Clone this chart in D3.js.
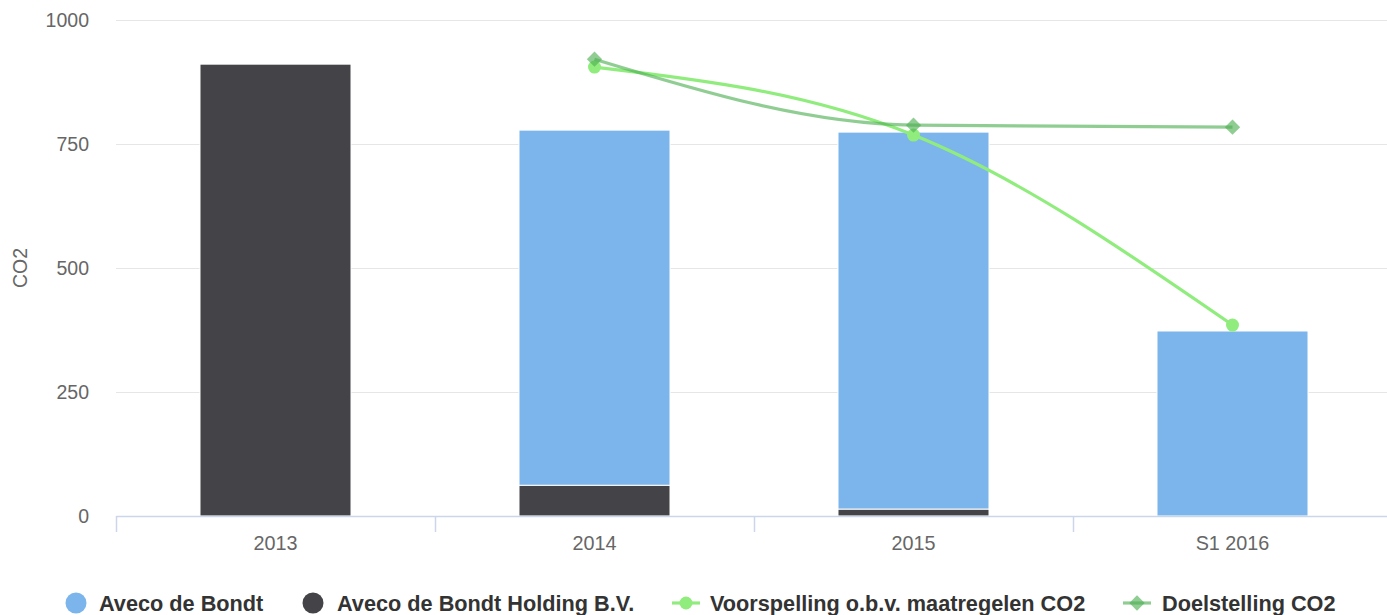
<!DOCTYPE html>
<html>
<head>
<meta charset="utf-8">
<script src="https://cdn.jsdelivr.net/npm/d3@7"></script>
<style>
  html, body { margin: 0; padding: 0; background: #fff; }
  svg { display: block; font-family: "Liberation Sans", Arial, Helvetica, sans-serif; }
</style>
</head>
<body>
<svg id="chart" width="1387" height="615"></svg>
<script>
// Chart data
const categories = ['2013', '2014', '2015', 'S1 2016'];
const avecoDeBondt = [0, 716, 760, 373];
const avecoHolding = [911, 62, 14, 0];
const voorspelling = [null, 905, 768, 385];
const doelstelling = [null, 921, 788, 784];
const yTicks = [0, 250, 500, 750, 1000];

const barColors = { blue: '#7cb5ec', dark: '#434348' };
const lineGreen = '#90ed7d';
const goalGreen = 'rgba(76, 175, 80, 0.62)';

const svg = d3.select('#chart');
const plot = { left: 116, right: 1392, top: 20, bottom: 516 };

const x = d3.scaleBand()
  .domain(categories)
  .range([plot.left, plot.right])
  .padding(0);

const y = d3.scaleLinear()
  .domain([0, 1000])
  .range([plot.bottom, plot.top]);

const barWidth = x.bandwidth() * 0.4734;

// Grid lines + y labels
const yAxis = svg.append('g')
  .attr('transform', `translate(${plot.left},0)`)
  .call(d3.axisLeft(y).tickValues(yTicks).tickFormat(d3.format('d'))
    .tickSize(-(plot.right - plot.left)).tickPadding(27));
yAxis.select('.domain').remove();
yAxis.selectAll('.tick line')
  .attr('stroke', d => d === 0 ? 'none' : '#e6e6e6')
  .attr('stroke-width', 1.2);
yAxis.selectAll('.tick text')
  .attr('fill', '#666666')
  .style('font-size', '19.5px');

// Axis title
svg.append('text')
  .attr('transform', `translate(27,${(plot.top + plot.bottom) / 2}) rotate(-90)`)
  .attr('text-anchor', 'middle')
  .attr('fill', '#666666')
  .style('font-size', '19.5px')
  .text('CO2');

// Stacked bars (holding at bottom, de Bondt on top)
const rows = categories.map((c, i) => ({ cat: c, holding: avecoHolding[i], bondt: avecoDeBondt[i] }));
const stacked = d3.stack().keys(['holding', 'bondt'])(rows);
const stackColors = { holding: barColors.dark, bondt: barColors.blue };

svg.append('g').selectAll('g')
  .data(stacked)
  .join('g')
  .attr('fill', d => stackColors[d.key])
  .selectAll('rect')
  .data(d => d.filter(s => s[1] - s[0] > 0))
  .join('rect')
  .attr('x', d => x(d.data.cat) + (x.bandwidth() - barWidth) / 2)
  .attr('y', d => y(d[1]))
  .attr('width', barWidth)
  .attr('height', d => y(d[0]) - y(d[1]))
  .attr('stroke', '#ffffff')
  .attr('stroke-width', 1);

// X axis line, labels and boundary ticks
const xAxis = svg.append('g')
  .attr('transform', `translate(0,${plot.bottom})`)
  .call(d3.axisBottom(x).tickSize(0).tickPadding(20));
xAxis.select('.domain').attr('stroke', '#ccd6eb').attr('stroke-width', 1.5);
xAxis.selectAll('.tick text')
  .attr('fill', '#666666')
  .style('font-size', '19.8px');

svg.append('g').selectAll('line')
  .data(categories)
  .join('line')
  .attr('x1', d => x(d) + 0.5)
  .attr('x2', d => x(d) + 0.5)
  .attr('y1', plot.bottom)
  .attr('y2', plot.bottom + 16)
  .attr('stroke', '#ccd6eb')
  .attr('stroke-width', 1.5);

// Lines
const cx = c => x(c) + x.bandwidth() / 2;
const line = d3.line()
  .defined(d => d.v !== null)
  .x(d => cx(d.cat))
  .y(d => y(d.v))
  .curve(d3.curveMonotoneX);

const voorData = categories.map((c, i) => ({ cat: c, v: voorspelling[i] }));
const doelData = categories.map((c, i) => ({ cat: c, v: doelstelling[i] }));

svg.append('path')
  .datum(voorData)
  .attr('d', line)
  .attr('fill', 'none')
  .attr('stroke', lineGreen)
  .attr('stroke-width', 3.2);

svg.append('g').selectAll('circle')
  .data(voorData.filter(d => d.v !== null))
  .join('circle')
  .attr('cx', d => cx(d.cat))
  .attr('cy', d => y(d.v))
  .attr('r', 6.5)
  .attr('fill', lineGreen);

svg.append('path')
  .datum(doelData)
  .attr('d', line)
  .attr('fill', 'none')
  .attr('stroke', goalGreen)
  .attr('stroke-width', 3.2);

const diamond = d3.symbol().type(d3.symbolDiamond2).size(150);
svg.append('g').selectAll('path')
  .data(doelData.filter(d => d.v !== null))
  .join('path')
  .attr('d', diamond)
  .attr('transform', d => `translate(${cx(d.cat)},${y(d.v)})`)
  .attr('fill', goalGreen);

// Legend
const legendY = 603;
const legend = svg.append('g').style('font-size', '21.7px').style('font-weight', 'bold');
const legendItems = [
  { name: 'Aveco de Bondt', type: 'bar', color: barColors.blue, sx: 76, tx: 99 },
  { name: 'Aveco de Bondt Holding B.V.', type: 'bar', color: barColors.dark, sx: 313, tx: 337 },
  { name: 'Voorspelling o.b.v. maatregelen CO2', type: 'circle', color: lineGreen, sx: 686, tx: 710 },
  { name: 'Doelstelling CO2', type: 'diamond', color: goalGreen, sx: 1137, tx: 1162 }
];

legendItems.forEach(item => {
  const g = legend.append('g');
  if (item.type === 'bar') {
    g.append('circle').attr('cx', item.sx).attr('cy', legendY).attr('r', 10.5).attr('fill', item.color);
  } else {
    g.append('line')
      .attr('x1', item.sx - 14).attr('x2', item.sx + 14)
      .attr('y1', legendY).attr('y2', legendY)
      .attr('stroke', item.color).attr('stroke-width', 3.2);
    if (item.type === 'circle') {
      g.append('circle').attr('cx', item.sx).attr('cy', legendY).attr('r', 6.5).attr('fill', item.color);
    } else {
      g.append('path').attr('d', diamond).attr('transform', `translate(${item.sx},${legendY})`).attr('fill', item.color);
    }
  }
  g.append('text')
    .attr('x', item.tx)
    .attr('y', legendY)
    .attr('dy', '0.35em')
    .attr('fill', '#333333')
    .text(item.name);
});
</script>
</body>
</html>
